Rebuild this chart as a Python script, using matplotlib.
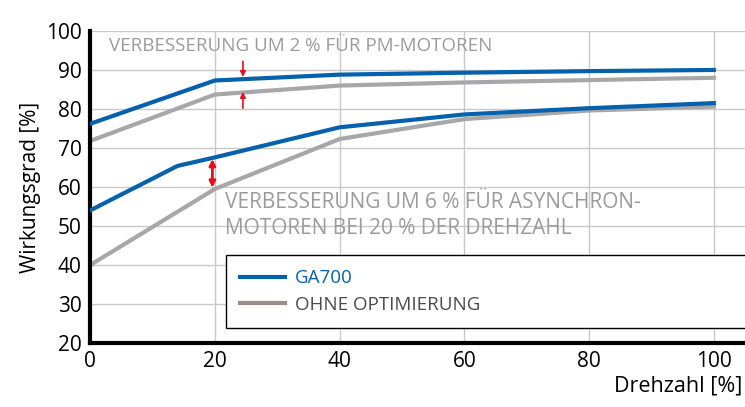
import numpy as np
import matplotlib.pyplot as plt

plt.rcParams['font.family'] = ['Open Sans', 'DejaVu Sans']

# PM-Motoren
x_pm = [0, 20, 40, 60, 80, 100]
ga700_pm = [76.2, 87.3, 88.8, 89.3, 89.7, 90.0]
ohne_pm = [71.8, 83.7, 86.0, 86.8, 87.4, 88.0]

# Asynchronmotoren
x_asyn_ga = [0, 14, 20, 40, 60, 80, 100]
ga700_asyn = [54.0, 65.4, 67.6, 75.3, 78.6, 80.2, 81.5]
x_asyn_ohne = [0, 20, 40, 60, 80, 100]
ohne_asyn = [40.0, 59.5, 72.3, 77.4, 79.6, 80.6]

x_ticks = [0, 20, 40, 60, 80, 100]
y_ticks = [20, 30, 40, 50, 60, 70, 80, 90, 100]

blue = '#0561ab'
grey = '#a7a7a9'
red = '#e3101f'

fig = plt.figure(figsize=(7.45, 4.07), dpi=100)
ax = fig.add_axes([0.121, 0.157, 0.879, 0.767])

ax.plot(x_pm, ga700_pm, color=blue, lw=3, zorder=3, label='GA700')
ax.plot(x_pm, ohne_pm, color=grey, lw=3, zorder=2, label='OHNE OPTIMIERUNG')
ax.plot(x_asyn_ga, ga700_asyn, color=blue, lw=3, zorder=3)
ax.plot(x_asyn_ohne, ohne_asyn, color=grey, lw=3, zorder=2)

ax.set_xlim(0, 105)
ax.set_ylim(20, 100)
ax.set_xticks(x_ticks)
ax.set_yticks(y_ticks)
ax.tick_params(length=0, labelsize=15, pad=6)
ax.grid(True, color='#c8c8c8', lw=1)
ax.set_axisbelow(True)
for s in ['top', 'right']:
    ax.spines[s].set_visible(False)
for s in ['left', 'bottom']:
    ax.spines[s].set_linewidth(3)

ax.set_ylabel('Wirkungsgrad [%]', fontsize=15, labelpad=4)
fig.text(0.996, 0.025, 'Drehzahl [%]', fontsize=15.5, ha='right', va='bottom')

# Pfeile
arr = dict(arrowstyle='-|>', color=red, lw=1.2, mutation_scale=8, shrinkA=0, shrinkB=0)
ax.annotate('', xy=(24.5, 88.2), xytext=(24.5, 92.2), arrowprops=arr, zorder=4)
ax.annotate('', xy=(24.5, 84.4), xytext=(24.5, 80.2), arrowprops=arr, zorder=4)
ax.annotate('', xy=(19.6, 67.2), xytext=(19.6, 59.8),
            arrowprops=dict(arrowstyle='<|-|>', color=red, lw=2, mutation_scale=9,
                            shrinkA=0, shrinkB=0), zorder=4)

ax.text(3.0, 96.1, 'VERBESSERUNG UM 2 % FÜR PM-MOTOREN', color='#9b9b9b',
        fontsize=13.5, va='center', ha='left')
ax.text(21.6, 52.6, 'VERBESSERUNG UM 6 % FÜR ASYNCHRON-\nMOTOREN BEI 20 % DER DREHZAHL',
        color='#9b9b9b', fontsize=15, va='center', ha='left', linespacing=1.32)

leg = ax.legend(loc='upper left', bbox_to_anchor=(226 / 745, 1 - 329 / 407, 520 / 745, 74 / 407),
                bbox_transform=fig.transFigure, mode='expand', fontsize=13.5,
                frameon=True, fancybox=False, edgecolor='black', framealpha=1,
                handlelength=2.4, handletextpad=0.55, borderpad=0.75, labelspacing=0.45,
                borderaxespad=0)
leg.get_frame().set_linewidth(1.0)
leg.legend_handles[1].set_color('#9b8d89')
leg.get_texts()[0].set_color(blue)
leg.get_texts()[1].set_color('#4a4a4a')

fig.savefig('out.png', dpi=100)
